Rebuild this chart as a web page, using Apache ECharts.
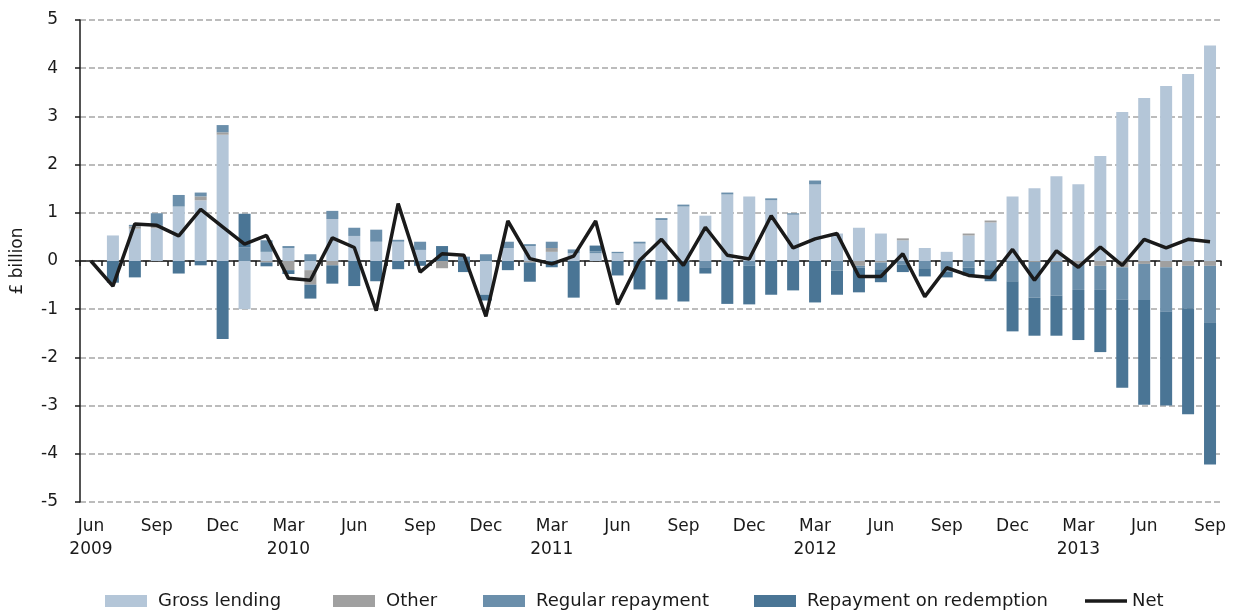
<!DOCTYPE html>
<html>
<head>
    <meta charset="utf-8">
    <title>Lending</title>
    <script src="https://cdn.jsdelivr.net/npm/echarts@6/dist/echarts.min.js"></script>
    <style>
        body { margin: 0; background: #fff; }
    </style>
</head>
<body>
<div id="main" style="width: 1235px;height:615px;"></div>
<script type="text/javascript">
    // months Jun 2009 - Sep 2013
    var months = ['Jun 2009','Jul 2009','Aug 2009','Sep 2009','Oct 2009','Nov 2009','Dec 2009',
        'Jan 2010','Feb 2010','Mar 2010','Apr 2010','May 2010','Jun 2010','Jul 2010','Aug 2010','Sep 2010','Oct 2010','Nov 2010','Dec 2010',
        'Jan 2011','Feb 2011','Mar 2011','Apr 2011','May 2011','Jun 2011','Jul 2011','Aug 2011','Sep 2011','Oct 2011','Nov 2011','Dec 2011',
        'Jan 2012','Feb 2012','Mar 2012','Apr 2012','May 2012','Jun 2012','Jul 2012','Aug 2012','Sep 2012','Oct 2012','Nov 2012','Dec 2012',
        'Jan 2013','Feb 2013','Mar 2013','Apr 2013','May 2013','Jun 2013','Jul 2013','Aug 2013','Sep 2013'];

    var grossLending = [0, 0.53, 0.67, 0.68, 1.13, 1.26, 2.62, -1.0, 0.19, 0.27, -0.19, 0.87, 0.52,
        0.40, 0.40, 0.23, 0, 0, -0.70, 0.27, 0.31, 0.19, 0.16, 0.16, 0.16, 0.36, 0.85, 1.13, 0.94,
        1.38, 1.34, 1.26, 0.96, 1.59, 0.57, 0.69, 0.57, 0.43, 0.27, 0.19, 0.53, 0.80, 1.34, 1.51,
        1.76, 1.59, 2.18, 3.09, 3.38, 3.63, 3.88, 4.47];
    var other = [0, 0, 0.05, 0.05, 0, 0.08, 0.05, 0, -0.03, -0.19, -0.30, -0.09, 0, 0, 0, 0, -0.15,
        0, 0, 0, -0.03, 0.08, 0, 0, 0, 0, 0, 0, 0, 0, 0, 0, 0, 0, 0, -0.10, -0.03, 0.04, 0, 0, 0.04,
        0.04, 0, -0.02, -0.02, -0.06, -0.10, -0.13, -0.06, -0.13, -0.10, -0.10];
    var regularRepayment = [0, 0, 0.03, 0.26, 0.24, 0.08, 0.15, 0.28, 0.24, 0.04, 0.14, 0.17, 0.17,
        0.25, 0.04, 0.17, 0, 0.09, 0.14, 0.13, 0.04, 0.13, 0.08, 0.04, 0.03, 0.04, 0.04, 0.04, -0.13,
        0.04, -0.10, 0.04, 0.03, 0.08, -0.20, -0.04, -0.14, -0.07, -0.15, -0.22, -0.14, -0.17, -0.42,
        -0.74, -0.70, -0.54, -0.50, -0.67, -0.75, -0.92, -0.88, -1.17];
    var redemption = [0, -0.45, -0.34, 0, -0.26, -0.09, -1.62, 0.70, -0.08, -0.08, -0.29, -0.38, -0.52,
        -0.42, -0.17, -0.10, 0.31, -0.23, -0.12, -0.19, -0.40, -0.13, -0.76, 0.12, -0.30, -0.59, -0.80,
        -0.84, -0.13, -0.89, -0.80, -0.70, -0.61, -0.86, -0.50, -0.51, -0.27, -0.16, -0.17, -0.12, -0.16,
        -0.25, -1.04, -0.79, -0.83, -1.04, -1.29, -1.83, -2.17, -1.95, -2.20, -2.95];
    var net = [0, -0.52, 0.77, 0.74, 0.52, 1.07, 0.71, 0.35, 0.53, -0.36, -0.40, 0.48, 0.28, -1.03,
        1.19, -0.23, 0.15, 0.12, -1.15, 0.83, 0.05, -0.06, 0.10, 0.83, -0.90, 0.01, 0.45, -0.09, 0.70,
        0.12, 0.04, 0.94, 0.27, 0.46, 0.57, -0.32, -0.32, 0.15, -0.74, -0.14, -0.30, -0.34, 0.24,
        -0.40, 0.21, -0.13, 0.29, -0.09, 0.45, 0.27, 0.45, 0.40];

    var seriesNames = ['Gross lending', 'Other', 'Regular repayment', 'Repayment on redemption', 'Net'];
    var colors = ['#b4c6d8', '#a0a0a0', '#6b8fab', '#4a7595', '#1a1a1a'];
    var legendLeft = [100, 328, 478, 749, 1080];

    var font = 'DejaVu Sans';
    var txt = '#1a1a1a';

    var myChart = echarts.init(document.getElementById('main'));

    function bar(i, data) {
        return {
            name: seriesNames[i],
            type: 'bar',
            stack: 'flows',
            barWidth: 12,
            data: data,
            itemStyle: { color: colors[i] },
            emphasis: { disabled: true }
        };
    }

    // one legend per item so each sits where it does in the original
    var legends = seriesNames.map(function (n, i) {
        var isLine = i === 4;
        return {
            bottom: 0,
            left: legendLeft[i],
            itemWidth: 42,
            itemHeight: isLine ? 3.5 : 12,
            textStyle: { fontFamily: font, fontSize: 18, color: txt, padding: [0, 0, 0, isLine ? 0 : 6] },
            data: [{ name: n, icon: 'rect', itemStyle: { color: colors[i] } }]
        };
    });

    var option = {
        animation: false,
        textStyle: { fontFamily: font, color: txt },
        grid: { left: 80, right: 14, top: 20, bottom: 113, outerBoundsMode: 'none' },
        legend: legends,
        xAxis: [{
            type: 'category',
            data: months,
            position: 'bottom',
            axisLine: { show: false, onZero: false },
            axisTick: { show: false },
            axisLabel: {
                interval: 2,
                margin: 13,
                fontSize: 17,
                lineHeight: 23,
                color: txt,
                formatter: function (v, i) {
                    var p = v.split(' ');
                    if (i === 0 || p[0] === 'Mar') return p[0] + '\n' + p[1];
                    return p[0];
                }
            }
        }, {
            type: 'category',
            data: months,
            position: 'bottom',
            axisLine: { show: true, onZero: true, lineStyle: { color: '#1a1a1a', width: 1.5 } },
            axisTick: { show: true, interval: 0, length: 5, lineStyle: { color: '#1a1a1a', width: 1.5 } },
            axisLabel: { show: false }
        }],
        yAxis: {
            type: 'value',
            min: -5,
            max: 5,
            interval: 1,
            name: '£ billion',
            nameLocation: 'middle',
            nameRotate: 90,
            nameGap: 54,
            nameTextStyle: { fontSize: 17, color: txt },
            axisLine: { show: true, lineStyle: { color: '#1a1a1a', width: 1.5 } },
            axisTick: { show: true, length: 5, lineStyle: { color: '#1a1a1a', width: 1.5 } },
            axisLabel: { fontSize: 17, margin: 22, color: txt },
            splitLine: { lineStyle: { color: '#a6a6a6', width: 1.5, type: [6, 3] } }
        },
        series: [
            bar(0, grossLending),
            bar(1, other),
            bar(2, regularRepayment),
            bar(3, redemption),
            {
                name: seriesNames[4],
                type: 'line',
                data: net,
                symbol: 'none',
                z: 5,
                lineStyle: { color: colors[4], width: 3.5 },
                itemStyle: { color: colors[4] },
                emphasis: { disabled: true }
            }
        ]
    };
    myChart.setOption(option);
</script>
</body>
</html>
